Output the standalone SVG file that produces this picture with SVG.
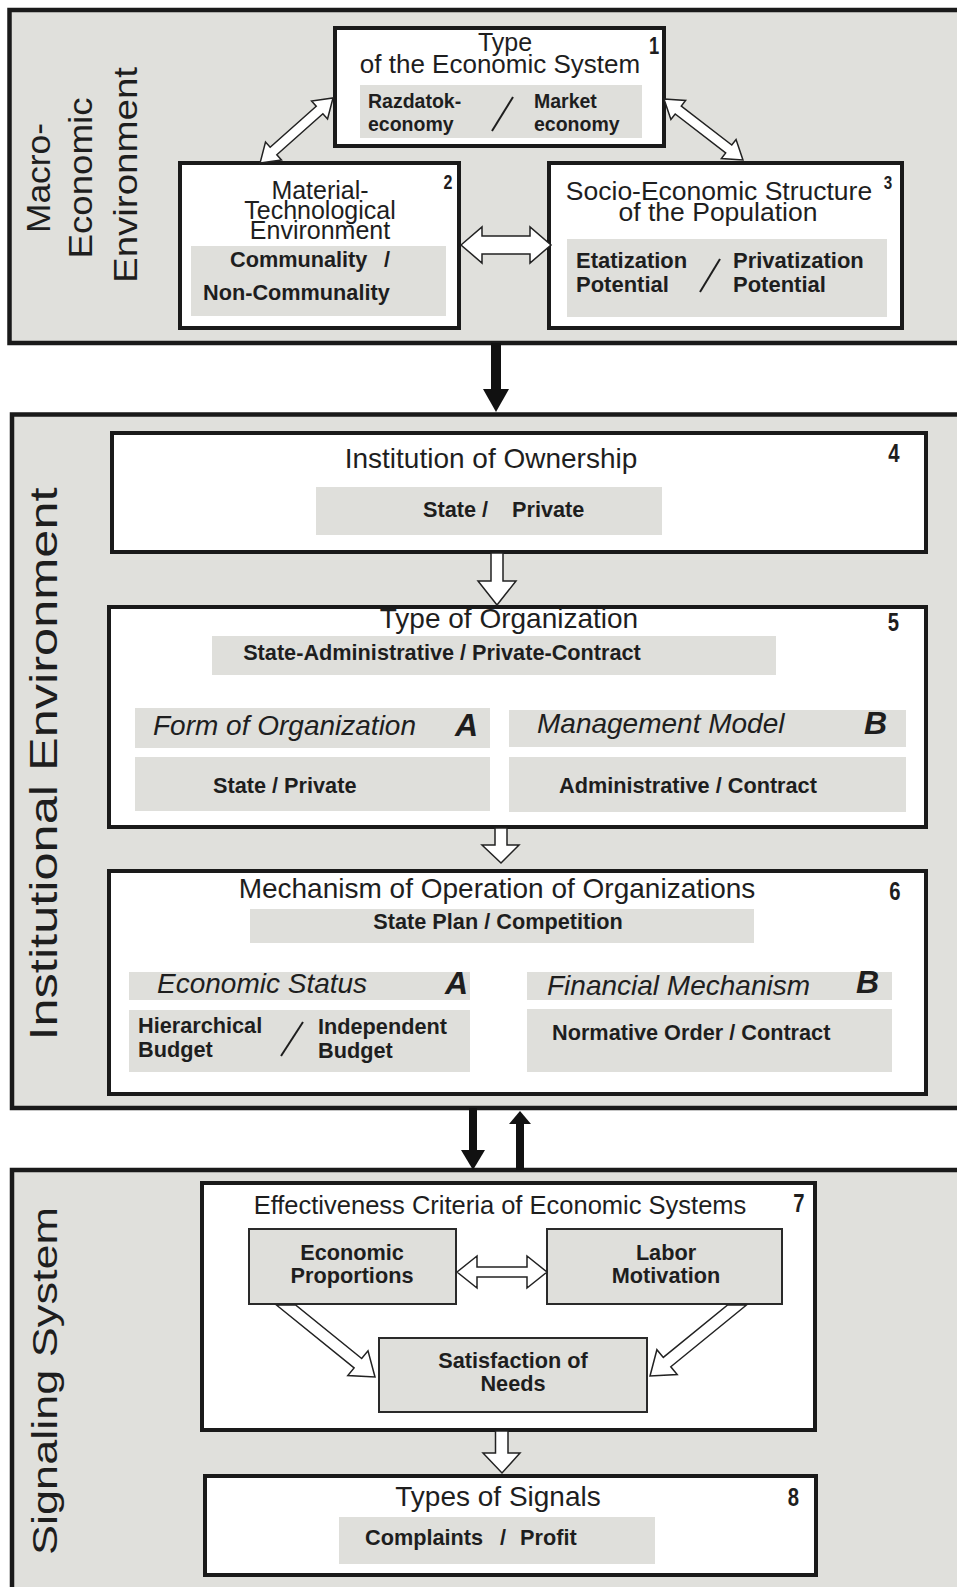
<svg xmlns="http://www.w3.org/2000/svg" width="957" height="1587" viewBox="0 0 957 1587">
<style>
.sec{fill:#e0e0dc;stroke:#1a1a1a;stroke-width:4.5}
.node{fill:#fff;stroke:#1a1a1a;stroke-width:4}
.band{fill:#dfdfdb}
.ibox{fill:#dfdfdb;stroke:#2a2a2a;stroke-width:2}
text{font-family:"Liberation Sans",Arial,sans-serif;fill:#1e1e1e}
.ti{font-size:28px}
.b{font-weight:bold;font-size:21.7px}
.it{font-style:italic;font-size:28px}
.ab{font-weight:bold;font-style:italic;font-size:32px}
.num{font-size:26px;font-weight:bold;text-anchor:middle}
.mid{text-anchor:middle}
.vl{font-size:33px}
.ha{fill:#fff;stroke:#222;stroke-width:1.5;stroke-linejoin:miter}
.ba{fill:#111}
.sl{stroke:#1e1e1e;stroke-width:2}
</style>
<rect width="957" height="1587" fill="#fff"/>

<g id="section-macro">
<rect class="sec" x="9.5" y="10" width="960" height="333"/>
<text class="vl mid" transform="translate(50,178) rotate(-90)" textLength="110" lengthAdjust="spacingAndGlyphs">Macro-</text>
<text class="vl mid" transform="translate(92,178) rotate(-90)" textLength="161" lengthAdjust="spacingAndGlyphs">Economic</text>
<text class="vl mid" transform="translate(137,175) rotate(-90)" textLength="216" lengthAdjust="spacingAndGlyphs">Environment</text>
</g>
<g id="section-institutional">
<rect class="sec" x="12" y="414.5" width="960" height="693.5"/>
<text class="mid" style="font-size:38px" transform="translate(57,764) rotate(-90)" textLength="553" lengthAdjust="spacingAndGlyphs">Institutional Environment</text>
</g>
<g id="section-signaling">
<rect class="sec" x="12" y="1170" width="960" height="430"/>
<text class="mid" style="font-size:35px" transform="translate(57,1381) rotate(-90)" textLength="348" lengthAdjust="spacingAndGlyphs">Signaling System</text>
</g>

<g id="node1">
<rect class="node" x="335" y="28" width="329" height="118"/>
<text class="mid" style="font-size:25px" x="505" y="51">Type</text>
<text class="mid" style="font-size:26px" x="500" y="73">of the Economic System</text>
<text class="num" style="font-size:23px" transform="translate(654,54) scale(0.8,1)">1</text>
<rect class="band" x="360" y="85" width="282" height="53"/>
<text class="b" style="font-size:19.5px" x="368" y="108">Razdatok-</text>
<text class="b" style="font-size:19.5px" x="368" y="131">economy</text>
<text class="b" style="font-size:19.5px" x="534" y="108">Market</text>
<text class="b" style="font-size:19.5px" x="534" y="131">economy</text>
<line class="sl" x1="513" y1="97" x2="492" y2="131"/>
</g>

<g id="node2">
<rect class="node" x="180" y="163" width="279" height="165"/>
<text class="mid" style="font-size:25px" x="320" y="199">Material-</text>
<text class="mid" style="font-size:25px" x="320" y="219">Technological</text>
<text class="mid" style="font-size:25px" x="320" y="239">Environment</text>
<text class="num" style="font-size:20px" transform="translate(448,189) scale(0.8,1)">2</text>
<rect class="band" x="191" y="246" width="255" height="70"/>
<text class="b" x="230" y="267">Communality</text>
<text class="b" x="384" y="267">/</text>
<text class="b" x="203" y="300">Non-Communality</text>
</g>

<g id="node3">
<rect class="node" x="549" y="163" width="353" height="165"/>
<text class="mid" style="font-size:26.5px" x="719" y="200">Socio-Economic Structure</text>
<text class="mid" style="font-size:26.5px" x="718" y="221">of the Population</text>
<text class="num" style="font-size:19px" transform="translate(888,189) scale(0.8,1)">3</text>
<rect class="band" x="567" y="239" width="320" height="78"/>
<text class="b" style="font-size:22px" x="576" y="268">Etatization</text>
<text class="b" style="font-size:22px" x="576" y="292">Potential</text>
<text class="b" style="font-size:22px" x="733" y="268">Privatization</text>
<text class="b" style="font-size:22px" x="733" y="292">Potential</text>
<line class="sl" x1="720" y1="259" x2="700" y2="292"/>
</g>

<g id="node4">
<rect class="node" x="112" y="433" width="814" height="119"/>
<text class="ti mid" x="491" y="468">Institution of Ownership</text>
<text class="num" transform="translate(894,462) scale(0.78,1)">4</text>
<rect class="band" x="316" y="487" width="346" height="48"/>
<text class="b" x="423" y="517">State /</text>
<text class="b" x="512" y="517">Private</text>
</g>

<g id="node5">
<rect class="node" x="109" y="607" width="817" height="220"/>
<text class="ti mid" x="509" y="628">Type of Organization</text>
<text class="num" transform="translate(893.5,631) scale(0.78,1)">5</text>
<rect class="band" x="212" y="636" width="564" height="39"/>
<text class="b mid" x="442" y="660">State-Administrative / Private-Contract</text>
<rect class="band" x="135" y="708" width="355" height="40"/>
<text class="it" x="153" y="735">Form of Organization</text>
<text class="ab" x="455" y="736">A</text>
<rect class="band" x="135" y="757" width="355" height="54"/>
<text class="b" x="213" y="793">State / Private</text>
<rect class="band" x="509" y="710" width="397" height="37"/>
<text class="it" x="537" y="733">Management Model</text>
<text class="ab" x="864" y="734">B</text>
<rect class="band" x="509" y="757" width="397" height="55"/>
<text class="b" x="559" y="793">Administrative / Contract</text>
</g>

<g id="node6">
<rect class="node" x="109" y="871" width="817" height="223"/>
<text class="ti mid" x="497" y="898">Mechanism of Operation of Organizations</text>
<text class="num" transform="translate(895,900) scale(0.78,1)">6</text>
<rect class="band" x="250" y="909" width="504" height="34"/>
<text class="b mid" x="498" y="929">State Plan / Competition</text>
<rect class="band" x="129" y="972" width="341" height="28"/>
<text class="it" x="157" y="993">Economic Status</text>
<text class="ab" x="445" y="994">A</text>
<rect class="band" x="129" y="1010" width="341" height="62"/>
<text class="b" x="138" y="1033">Hierarchical</text>
<text class="b" x="138" y="1057">Budget</text>
<text class="b" x="318" y="1034">Independent</text>
<text class="b" x="318" y="1058">Budget</text>
<line class="sl" x1="303" y1="1022" x2="281" y2="1056"/>
<rect class="band" x="527" y="972" width="365" height="28"/>
<text class="it" x="547" y="995">Financial Mechanism</text>
<text class="ab" x="856" y="993">B</text>
<rect class="band" x="527" y="1009" width="365" height="63"/>
<text class="b" x="552" y="1040">Normative Order / Contract</text>
</g>

<g id="node7">
<rect class="node" x="202" y="1183" width="613" height="247"/>
<text class="mid" style="font-size:25.5px" x="500" y="1214">Effectiveness Criteria of Economic Systems</text>
<text class="num" transform="translate(799,1212) scale(0.78,1)">7</text>
</g>
<g id="node7a">
<rect class="ibox" x="249" y="1229" width="207" height="75"/>
<text class="b mid" x="352" y="1260">Economic</text>
<text class="b mid" x="352" y="1283">Proportions</text>
</g>
<g id="node7b">
<rect class="ibox" x="547" y="1229" width="235" height="75"/>
<text class="b mid" x="666" y="1260">Labor</text>
<text class="b mid" x="666" y="1283">Motivation</text>
</g>
<g id="node7c">
<rect class="ibox" x="379" y="1338" width="268" height="74"/>
<text class="b mid" x="513" y="1368">Satisfaction of</text>
<text class="b mid" x="513" y="1391">Needs</text>
</g>

<g id="node8">
<rect class="node" x="205" y="1476" width="611" height="99"/>
<text class="ti mid" x="498" y="1506">Types of Signals</text>
<text class="num" transform="translate(793.5,1506) scale(0.78,1)">8</text>
<rect class="band" x="339" y="1517" width="316" height="47"/>
<text class="b" x="365" y="1545">Complaints</text>
<text class="b mid" x="503" y="1545">/</text>
<text class="b" x="520" y="1545">Profit</text>
</g>

<g id="connectors">
<polygon class="ha" transform="translate(333,98) rotate(138.3)" points="0,0 18,-12 18,-5 79.7,-5 79.7,-12 97.7,0 79.7,12 79.7,5 18,5 18,12"/>
<polygon class="ha" transform="translate(664,99) rotate(37.7)" points="0,0 18,-12 18,-5 81.8,-5 81.8,-12 99.8,0 81.8,12 81.8,5 18,5 18,12"/>
<polygon class="ha" points="461,245 482,227 482,236 530,236 530,227 551,245 530,263 530,254 482,254 482,263"/>
<rect class="ba" x="491" y="343" width="10" height="48"/>
<polygon class="ba" points="483,389 509,389 496,412"/>
<polygon class="ha" points="491,553 503,553 503,581 516,581 497,605 478,581 491,581"/>
<polygon class="ha" points="495,828 507,828 507,845 519,845 501,863 482,845 495,845"/>
<rect class="ba" x="469" y="1108" width="8" height="44"/>
<polygon class="ba" points="461,1150 485,1150 473,1170"/>
<rect class="ba" x="516" y="1122" width="8" height="48"/>
<polygon class="ba" points="509,1124 531,1124 520,1111"/>
<polygon class="ha" points="457,1272 477,1256 477,1267 527,1267 527,1256 547,1272 527,1288 527,1277 477,1277 477,1288"/>
<polygon class="ha" points="276.4,1305 354.1,1367.9 347.8,1375.6 375,1377 368,1350.8 361.7,1358.5 295.6,1305"/>
<polygon class="ha" points="746.5,1305 670.8,1366.75 677.2,1374.5 650,1376 656.9,1349.7 663.3,1357.45 727.6,1305"/>
<polygon class="ha" points="495.5,1431 508,1431 508,1453 520,1453 502,1473 483,1453 495.5,1453"/>
</g>
</svg>
